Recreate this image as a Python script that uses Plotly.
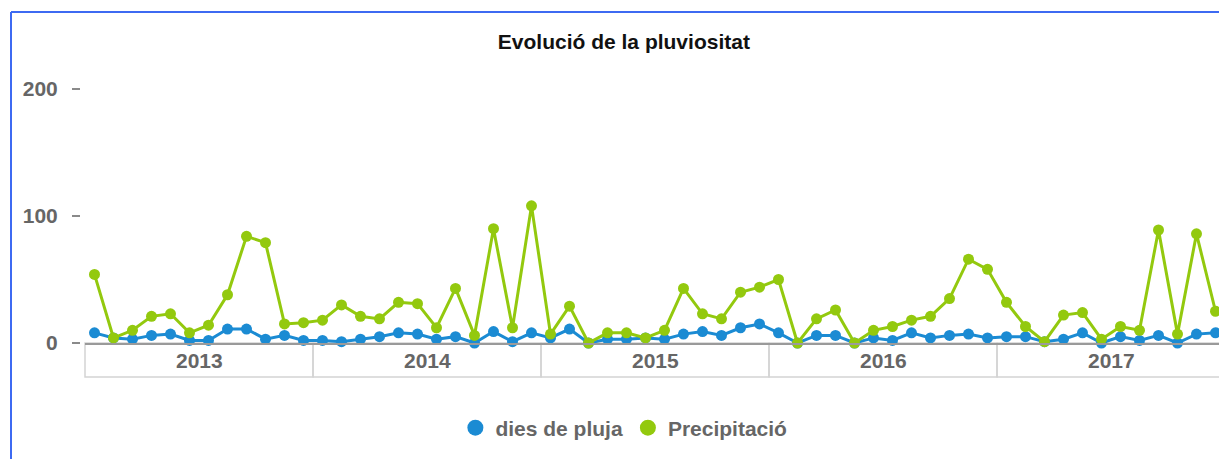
"""Evolució de la pluviositat - line chart with years box under the axis."""
import plotly.graph_objects as go

years = ['2013', '2014', '2015', '2016', '2017']
months = ['01', '02', '03', '04', '05', '06', '07', '08', '09', '10', '11', '12']
periods = [f'{y}-{m}' for y in years for m in months]

dies_pluja = [8, 4, 3, 6, 7, 2, 2, 11, 11, 3, 6, 2,
              2, 1, 3, 5, 8, 7, 3, 5, 0, 9, 1, 8,
              4, 11, 0, 3, 3, 4, 3, 7, 9, 6, 12, 15,
              8, 0, 6, 6, 0, 4, 2, 8, 4, 6, 7, 4,
              5, 5, 1, 3, 8, 0, 5, 2, 6, 0, 7, 8]

precipitacio = [54, 4, 10, 21, 23, 8, 14, 38, 84, 79, 15, 16,
                18, 30, 21, 19, 32, 31, 12, 43, 6, 90, 12, 108,
                7, 29, 0, 8, 8, 4, 10, 43, 23, 19, 40, 44,
                50, 0, 19, 26, 0, 10, 13, 18, 21, 35, 66, 58,
                32, 13, 1, 22, 24, 3, 13, 10, 89, 7, 86, 25]

series = [('dies de pluja', dies_pluja, '#1b8bd3'),
          ('Precipitació', precipitacio, '#93c90e')]

FONT = 'Liberation Sans'
GREY = '#666666'

# page body adds an 8px offset, so the figure is laid out 8px up/left
W, H = 1227, 459
L, R, T, B = 72, 10, 62, 124
plot_w, plot_h = W - L - R, H - T - B

fig = go.Figure()
for name, vals, color in series:
    fig.add_trace(go.Scatter(x=periods, y=vals, name=name, mode='lines+markers',
                             line=dict(color=color, width=3),
                             marker=dict(color=color, size=11),
                             cliponaxis=False, showlegend=False))
    # legend entry with only the dot
    fig.add_trace(go.Scatter(x=[None], y=[None], name=name, mode='markers',
                             marker=dict(color=color, size=16)))

fig.update_layout(
    width=W, height=H,
    margin=dict(l=L, r=R, t=T, b=B),
    plot_bgcolor='white', paper_bgcolor='white',
    font=dict(family=FONT, color=GREY),
    title=dict(text='<b>Evolució de la pluviositat</b>', x=0.475, xanchor='center',
               xref='paper', y=1 - 34 / H, yref='container', yanchor='middle',
               font=dict(size=21, color='#111111', family=FONT)),
    xaxis=dict(type='category', range=[-0.5, len(periods) - 0.5], domain=[5 / plot_w, 1],
               showticklabels=False, ticks='', showgrid=False, zeroline=False,
               showline=True, linecolor='#9a9a9a', linewidth=2),
    yaxis=dict(range=[0, 215], tickvals=[0, 100, 200], anchor='free', position=0,
               showgrid=False, zeroline=False, showline=False,
               ticks='outside', ticklen=8, tickwidth=2, tickcolor='#8a8a8a',
               ticklabelstandoff=10,
               tickfont=dict(size=21, color=GREY, family=FONT, weight='bold')),
    legend=dict(orientation='h', x=0.475, xanchor='center', y=-85 / plot_h, yanchor='middle',
                font=dict(size=21, color=GREY, family=FONT, weight='bold'),
                itemwidth=30),
)

# years box under the axis
box_bottom = -34 / plot_h
shapes = []
for i, yr in enumerate(years):
    shapes.append(dict(type='rect', xref='x domain', yref='paper',
                       x0=i / len(years), x1=(i + 1) / len(years), y0=box_bottom, y1=0,
                       line=dict(color='#d4d4d4', width=1.5), fillcolor='rgba(0,0,0,0)',
                       layer='below'))
    fig.add_annotation(x=(i + 0.5) / len(years), xref='x domain', xanchor='center',
                       y=box_bottom / 2, yref='paper', yanchor='middle', text=f'<b>{yr}</b>',
                       showarrow=False, font=dict(size=21, color=GREY, family=FONT))

# blue frame on top and left
fx = (3 - L) / plot_w
fy = (H - B - 4) / plot_h
shapes.append(dict(type='line', xref='paper', yref='paper', x0=fx, x1=1.05, y0=fy, y1=fy,
                   line=dict(color='#3d6af2', width=2)))
shapes.append(dict(type='line', xref='paper', yref='paper', x0=fx, x1=fx, y0=fy, y1=-0.5,
                   line=dict(color='#3d6af2', width=2)))
fig.update_layout(shapes=shapes)

fig.write_html('out.html')
